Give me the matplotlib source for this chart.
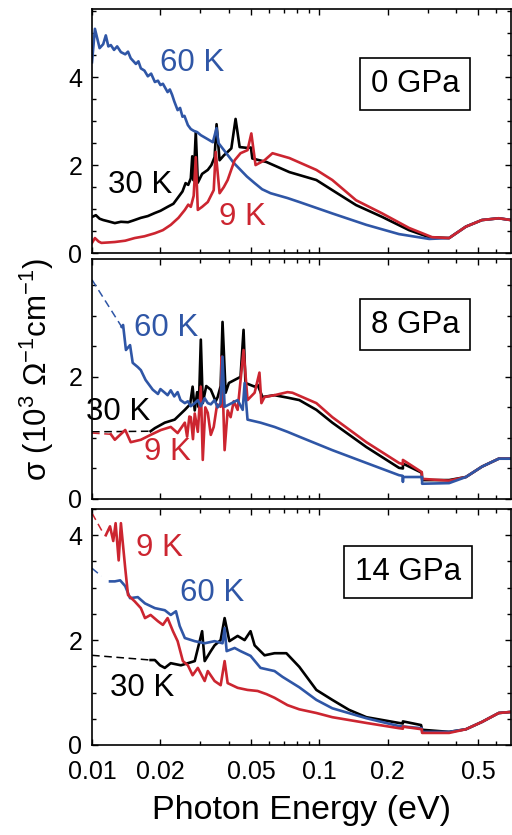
import matplotlib
matplotlib.use("Agg")
import matplotlib.pyplot as plt
from matplotlib.ticker import FixedLocator, FixedFormatter, LogLocator, NullFormatter, MultipleLocator

plt.rcParams['font.family'] = ['Liberation Sans', 'DejaVu Sans']
plt.rcParams['mathtext.fontset'] = 'custom'
plt.rcParams['mathtext.rm'] = 'Liberation Sans'
plt.rcParams['mathtext.default'] = 'regular'

BLUE = '#2f56a6'
RED = '#cc2530'
BLACK = '#000000'

# common high-energy tail (all temperatures merge)
tail_e = [0.441, 0.519, 0.615, 0.695]
tail_0gpa = [0.60, 0.75, 0.79, 0.75]
tail_8gpa = [0.36, 0.53, 0.66, 0.66]
tail_14gpa = [0.30, 0.44, 0.61, 0.63]

# ---- 0 GPa ----
e_0_60k = [0.0100, 0.0103, 0.0108, 0.0112, 0.0115, 0.0118, 0.0121, 0.0125, 0.0129, 0.0134,
           0.0140, 0.0144, 0.0148, 0.0156, 0.0160, 0.0164, 0.0170, 0.0176, 0.0182, 0.0189,
           0.0195, 0.0200, 0.0205, 0.0215, 0.0220, 0.0225, 0.0230, 0.0238, 0.0244, 0.0250,
           0.0255, 0.0264, 0.0272, 0.0280, 0.0290, 0.0301, 0.0320, 0.0340, 0.0353, 0.0360,
           0.0395, 0.0420, 0.0450, 0.0480, 0.0519, 0.0560, 0.0610, 0.0724, 0.0816, 0.114,
           0.161, 0.224, 0.304, 0.372] + tail_e
s_0_60k = [4.34, 5.10, 4.66, 4.75, 4.95, 4.70, 4.73, 4.62, 4.70, 4.57,
           4.52, 4.58, 4.43, 4.30, 4.36, 4.20, 4.15, 4.02, 4.08, 3.89,
           3.92, 3.82, 3.85, 3.66, 3.72, 3.60, 3.45, 3.25, 3.30, 3.10,
           3.12, 2.91, 2.82, 2.78, 2.75, 2.68, 2.60, 2.52, 2.84, 2.50,
           2.23, 2.05, 1.89, 1.74, 1.59, 1.45, 1.36, 1.25, 1.16, 0.90,
           0.64, 0.43, 0.32, 0.34] + tail_0gpa

e_0_30k = [0.0100, 0.0104, 0.0108, 0.0112, 0.0118, 0.0126, 0.0134, 0.0144, 0.0152, 0.0164,
           0.0176, 0.0189, 0.0200, 0.0215, 0.0228, 0.0238, 0.0250, 0.0258, 0.0265, 0.0272,
           0.0276, 0.0280, 0.0286, 0.0292, 0.0305, 0.0323, 0.0335, 0.0346, 0.0353, 0.0364,
           0.0380, 0.0395, 0.0410, 0.0428, 0.0446, 0.0483, 0.0500, 0.0507, 0.0585, 0.0738,
           0.0970, 0.114, 0.145, 0.189, 0.248, 0.304, 0.372] + tail_e
s_0_30k = [0.82, 0.86, 0.78, 0.75, 0.72, 0.68, 0.71, 0.70, 0.74, 0.80,
           0.84, 0.91, 0.96, 1.05, 1.12, 1.25, 1.40, 1.59, 1.55, 1.70,
           2.20, 1.65, 2.75, 1.60, 1.80, 1.89, 2.00, 2.18, 2.93, 2.11,
           2.22, 2.30, 2.38, 3.05, 2.41, 2.39, 2.40, 2.15, 2.07, 1.84,
           1.66, 1.43, 1.09, 0.82, 0.52, 0.36, 0.34] + tail_0gpa

e_0_9k = [0.0100, 0.0103, 0.0107, 0.0110, 0.0118, 0.0126, 0.0140, 0.0154, 0.0170, 0.0189,
          0.0205, 0.0222, 0.0240, 0.0256, 0.0265, 0.0272, 0.0280, 0.0286, 0.0292, 0.0305,
          0.0323, 0.0343, 0.0350, 0.0364, 0.0380, 0.0395, 0.0410, 0.0424, 0.0450, 0.0483,
          0.0502, 0.0524, 0.0574, 0.0622, 0.0738, 0.0970, 0.114, 0.145, 0.189, 0.248,
          0.313, 0.372] + tail_e
s_0_9k = [0.23, 0.34, 0.26, 0.23, 0.24, 0.25, 0.28, 0.34, 0.38, 0.45,
          0.52, 0.64, 0.80, 0.98, 1.10, 1.05, 1.30, 2.18, 0.98, 1.05,
          1.16, 1.43, 2.30, 1.36, 1.50, 1.66, 1.90, 2.11, 2.27, 2.34,
          2.72, 2.00, 2.11, 2.27, 2.16, 1.89, 1.66, 1.20, 0.90, 0.57,
          0.36, 0.34] + tail_0gpa

# ---- 8 GPa ----
e_8_60k_dash = [0.0100, 0.0135]
s_8_60k_dash = [3.59, 2.82]
e_8_60k = [0.0135, 0.0137, 0.0141, 0.0147, 0.0151, 0.0159, 0.0164, 0.0172, 0.0185, 0.0195,
           0.0200, 0.0209, 0.0215, 0.0222, 0.0230, 0.0238, 0.0245, 0.0256, 0.0264, 0.0272,
           0.0283, 0.0292, 0.0301, 0.0313, 0.0323, 0.0333, 0.0346, 0.0357, 0.0368, 0.0375,
           0.0383, 0.0437, 0.0460, 0.0469, 0.0483, 0.0551, 0.0635, 0.0724, 0.0816, 0.114,
           0.161, 0.224, 0.232, 0.233, 0.234, 0.283, 0.283, 0.372] + tail_e
s_8_60k = [2.82, 2.85, 2.44, 2.52, 2.23, 2.16, 2.11, 1.95, 1.79, 1.72,
           1.80, 1.74, 1.70, 1.78, 1.68, 1.75, 1.62, 1.57, 1.60, 1.52,
           1.57, 1.62, 1.52, 1.65, 1.57, 1.55, 1.62, 1.50, 1.57, 2.33,
           1.51, 1.62, 1.46, 1.90, 1.30, 1.25, 1.18, 1.10, 1.02, 0.80,
           0.59, 0.39, 0.38, 0.28, 0.36, 0.36, 0.25, 0.26] + tail_8gpa

e_8_30k_dash = [0.0100, 0.0181]
s_8_30k_dash = [1.10, 1.11]
e_8_30k = [0.0181, 0.0189, 0.0209, 0.0231, 0.0256, 0.0270, 0.0277, 0.0283, 0.0290, 0.0295,
           0.0301, 0.0307, 0.0318, 0.0333, 0.0350, 0.0357, 0.0368, 0.0375, 0.0387, 0.0400,
           0.0424, 0.0450, 0.0464, 0.0473, 0.0519, 0.0535, 0.0562, 0.0635, 0.0724, 0.0816,
           0.0970, 0.114, 0.161, 0.224, 0.233, 0.233, 0.282, 0.283, 0.372] + tail_e
s_8_30k = [1.11, 1.16, 1.25, 1.30, 1.46, 1.55, 1.84, 1.45, 1.75, 1.50,
           2.61, 1.57, 1.85, 1.79, 1.60, 1.67, 1.85, 2.90, 1.74, 1.90,
           1.95, 2.00, 2.77, 1.90, 1.84, 1.87, 1.67, 1.70, 1.66, 1.62,
           1.46, 1.25, 0.85, 0.51, 0.50, 0.58, 0.43, 0.31, 0.31] + tail_8gpa

e_8_9k_dash = [0.0100, 0.0121]
s_8_9k_dash = [1.08, 1.06]
e_8_9k = [0.0121, 0.0126, 0.0140, 0.0148, 0.0164, 0.0181, 0.0201, 0.0222, 0.0238, 0.0256,
          0.0262, 0.0268, 0.0272, 0.0278, 0.0283, 0.0292, 0.0301, 0.0307, 0.0315, 0.0323,
          0.0333, 0.0343, 0.0355, 0.0368, 0.0372, 0.0383, 0.0395, 0.0407, 0.0420, 0.0437,
          0.0464, 0.0483, 0.0519, 0.0545, 0.0556, 0.0574, 0.0635, 0.0724, 0.0761, 0.0970,
          0.114, 0.161, 0.224, 0.233, 0.233, 0.282, 0.283, 0.372] + tail_e
s_8_9k = [1.06, 0.97, 1.13, 0.93, 0.97, 1.05, 1.13, 1.18, 1.08, 1.25,
          1.02, 1.35, 1.34, 0.98, 1.40, 1.10, 1.84, 0.64, 1.50, 1.41,
          1.05, 1.18, 1.55, 1.51, 2.33, 0.80, 1.45, 1.34, 1.60, 1.46,
          2.44, 1.62, 1.74, 2.07, 1.57, 1.67, 1.70, 1.75, 1.74, 1.57,
          1.34, 0.93, 0.59, 0.57, 0.64, 0.44, 0.33, 0.30] + tail_8gpa

# ---- 14 GPa ----
e_14_9k_dash = [0.0100, 0.0112]
s_14_9k_dash = [4.42, 4.04]
e_14_9k = [0.0115, 0.0120, 0.0124, 0.0127, 0.0131, 0.0134, 0.0140, 0.0144, 0.0154, 0.0164,
           0.0171, 0.0181, 0.0195, 0.0205, 0.0215, 0.0227, 0.0238, 0.0251, 0.0264, 0.0277,
           0.0292, 0.0313, 0.0323, 0.0346, 0.0368, 0.0383, 0.0395, 0.0437, 0.0483, 0.0535,
           0.0585, 0.0635, 0.0724, 0.0816, 0.0970, 0.114, 0.161, 0.224, 0.233, 0.233,
           0.282, 0.283, 0.372] + tail_e
s_14_9k = [4.00, 4.17, 3.89, 4.23, 3.52, 4.23, 3.37, 2.86, 2.74, 2.61,
           2.42, 2.48, 2.36, 2.29, 2.42, 2.17, 1.98, 1.60, 1.52, 1.33,
           1.47, 1.22, 1.41, 1.22, 1.14, 1.60, 1.18, 1.09, 1.05, 1.03,
           0.97, 0.90, 0.76, 0.68, 0.61, 0.53, 0.42, 0.32, 0.31, 0.35,
           0.30, 0.23, 0.23] + tail_14gpa

e_14_60k_dash = [0.0100, 0.0110]
s_14_60k_dash = [3.37, 3.22]
e_14_60k = [0.0120, 0.0126, 0.0133, 0.0140, 0.0147, 0.0159, 0.0171, 0.0189, 0.0209, 0.0222,
            0.0234, 0.0243, 0.0256, 0.0283, 0.0313, 0.0346, 0.0375, 0.0383, 0.0391, 0.0424,
            0.0450, 0.0498, 0.0551, 0.0635, 0.0688, 0.0816, 0.0970, 0.114, 0.161, 0.224,
            0.282, 0.283, 0.372] + tail_e
s_14_60k = [3.12, 3.12, 3.14, 3.03, 2.80, 2.82, 2.70, 2.61, 2.57, 2.48,
            2.55, 2.27, 2.04, 1.98, 1.94, 1.98, 1.94, 2.23, 1.79, 1.85,
            1.79, 1.70, 1.47, 1.41, 1.30, 1.10, 0.86, 0.70, 0.51, 0.36,
            0.32, 0.25, 0.25] + tail_14gpa

e_14_30k_dash = [0.0100, 0.0181]
s_14_30k_dash = [1.71, 1.62]
e_14_30k = [0.0181, 0.0189, 0.0199, 0.0209, 0.0222, 0.0246, 0.0264, 0.0283, 0.0305, 0.0313,
            0.0333, 0.0346, 0.0368, 0.0383, 0.0402, 0.0437, 0.0469, 0.0498, 0.0519, 0.0574,
            0.0635, 0.0716, 0.0816, 0.0970, 0.114, 0.135, 0.161, 0.224, 0.233, 0.233,
            0.280, 0.283, 0.372] + tail_e
s_14_30k = [1.62, 1.62, 1.52, 1.47, 1.56, 1.52, 1.56, 1.60, 2.17, 1.60,
            1.79, 1.90, 2.00, 2.42, 1.98, 2.08, 2.00, 2.17, 1.90, 1.71,
            1.75, 1.75, 1.49, 1.05, 0.86, 0.67, 0.53, 0.42, 0.41, 0.45,
            0.38, 0.29, 0.25] + tail_14gpa

x_major = [0.01, 0.02, 0.05, 0.1, 0.2, 0.5]
x_labels = ['0.01', '0.02', '0.05', '0.1', '0.2', '0.5']

fig = plt.figure(figsize=(5.12, 8.35), dpi=100)
left, width = 0.1797, 0.818
ax1 = fig.add_axes([left, 0.697, width, 0.2922])
ax2 = fig.add_axes([left, 0.4024, width, 0.2874])
ax3 = fig.add_axes([left, 0.1078, width, 0.2826])

LW = 1.9


def curve(ax, e, s, color, e_dash=None, s_dash=None):
    if e_dash is not None:
        ax.plot(e_dash, s_dash, color=color, lw=1.1, ls=(0, (5, 3)))
    ax.plot(e, s, color=color, lw=LW)


# 0 GPa
curve(ax1, e_0_30k, s_0_30k, BLACK)
curve(ax1, e_0_60k, s_0_60k, BLUE)
curve(ax1, e_0_9k, s_0_9k, RED)
# 8 GPa
curve(ax2, e_8_30k, s_8_30k, BLACK, e_8_30k_dash, s_8_30k_dash)
curve(ax2, e_8_9k, s_8_9k, RED, e_8_9k_dash, s_8_9k_dash)
curve(ax2, e_8_60k, s_8_60k, BLUE, e_8_60k_dash, s_8_60k_dash)
# 14 GPa
curve(ax3, e_14_30k, s_14_30k, BLACK, e_14_30k_dash, s_14_30k_dash)
curve(ax3, e_14_60k, s_14_60k, BLUE, e_14_60k_dash, s_14_60k_dash)
curve(ax3, e_14_9k, s_14_9k, RED, e_14_9k_dash, s_14_9k_dash)

ylims = [5.55, 3.93, 4.5]
for ax, ytop in zip([ax1, ax2, ax3], ylims):
    ax.set_xscale('log')
    ax.set_xlim(0.01, 0.695)
    ax.set_ylim(0, ytop)
    ax.xaxis.set_major_locator(FixedLocator(x_major))
    ax.xaxis.set_minor_locator(LogLocator(base=10, subs=range(2, 10)))
    ax.xaxis.set_minor_formatter(NullFormatter())
    ax.yaxis.set_major_locator(MultipleLocator(2))
    ax.yaxis.set_minor_locator(MultipleLocator(0.5))
    ax.tick_params(which='both', direction='in', top=True, right=True, width=1.0)
    ax.tick_params(which='major', length=4, labelsize=18, pad=7)
    ax.tick_params(which='minor', length=2.6)
    for sp in ax.spines.values():
        sp.set_linewidth(1.2)
    if ax is ax3:
        ax.xaxis.set_major_formatter(FixedFormatter(x_labels))
        ax.tick_params(axis='x', which='major', pad=11)
    else:
        ax.xaxis.set_major_formatter(NullFormatter())

box = dict(boxstyle='square,pad=0.35', fc='white', ec='black', lw=1.2)
fs = 22.5

ax1.text(0.239, 0.779, '60 K', color=BLUE, fontsize=fs, ha='center', va='center', transform=ax1.transAxes)
ax1.text(0.115, 0.279, '30 K', color=BLACK, fontsize=fs, ha='center', va='center', transform=ax1.transAxes)
ax1.text(0.358, 0.148, '9 K', color=RED, fontsize=fs, ha='center', va='center', transform=ax1.transAxes)
ax1.text(0.771, 0.693, '0 GPa', fontsize=fs, ha='center', va='center', transform=ax1.transAxes, bbox=box)

ax2.text(0.177, 0.7125, '60 K', color=BLUE, fontsize=fs, ha='center', va='center', transform=ax2.transAxes)
ax2.text(0.062, 0.3625, '30 K', color=BLACK, fontsize=fs, ha='center', va='center', transform=ax2.transAxes)
ax2.text(0.181, 0.196, '9 K', color=RED, fontsize=fs, ha='center', va='center', transform=ax2.transAxes)
ax2.text(0.771, 0.727, '8 GPa', fontsize=fs, ha='center', va='center', transform=ax2.transAxes, bbox=box)

ax3.text(0.160, 0.835, '9 K', color=RED, fontsize=fs, ha='center', va='center', transform=ax3.transAxes)
ax3.text(0.286, 0.644, '60 K', color=BLUE, fontsize=fs, ha='center', va='center', transform=ax3.transAxes)
ax3.text(0.119, 0.242, '30 K', color=BLACK, fontsize=fs, ha='center', va='center', transform=ax3.transAxes)
ax3.text(0.754, 0.733, '14 GPa', fontsize=fs, ha='center', va='center', transform=ax3.transAxes, bbox=box)

ax3.set_xlabel('Photon Energy (eV)', fontsize=24.5, labelpad=8)
fig.text(0.072, 0.557, 'σ (10$^3$ Ω$^{-1}$cm$^{-1}$)', rotation=90, fontsize=22.5,
         ha='center', va='center')

fig.savefig('out.png', dpi=100)
